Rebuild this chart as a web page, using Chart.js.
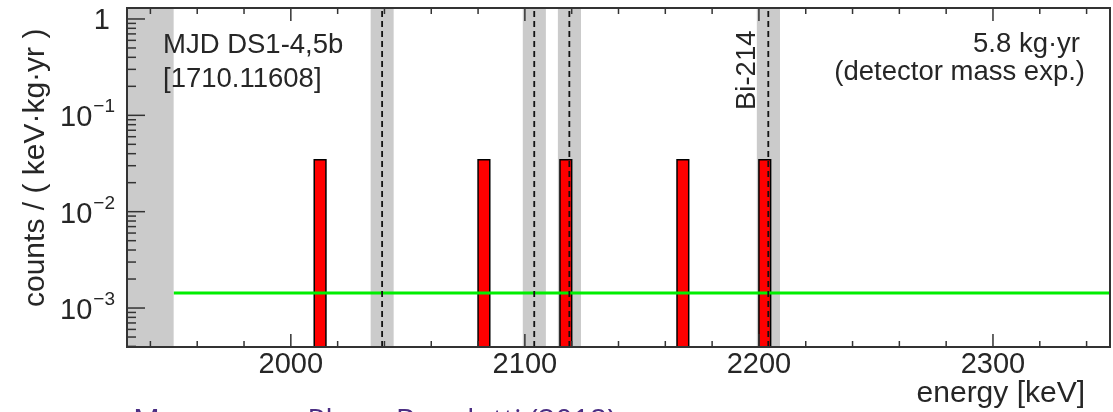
<!DOCTYPE html>
<html>
<head>
<meta charset="utf-8">
<script src="https://cdn.jsdelivr.net/npm/chart.js@4/dist/chart.umd.min.js"></script>
<style>
  html, body { margin: 0; padding: 0; background: #fff; overflow: hidden; }
  #wrap { position: relative; width: 1113px; height: 412px; }
  #caption {
    position: absolute; left: 133px; top: 404px;
    font: 30px "Open Sans", sans-serif; line-height: 1; color: #4b2e83;
    white-space: nowrap;
  }
</style>
</head>
<body>
<div id="wrap">
  <canvas id="chart" width="1113" height="412"></canvas>
  <div id="caption">Mancarone, Plaza, Benalotti (2018)</div>
</div>
<script>
// axis ranges
const xMin = 1930, xMax = 2350;
const yMin = 3.94e-4, yMax = 1.3;

// tick labels
const xTickLabels = [2000, 2100, 2200, 2300];
const yTickExponents = [-3, -2, -1, 0];

// observed events (5 keV bins), counts / (keV kg yr)
const binLow = [2010, 2080, 2115, 2165, 2200];
const binWidth = 5;
const binValues = [0.0345, 0.0345, 0.0345, 0.0345, 0.0345];

// excluded gamma lines (+-5 keV) and the low-energy cut
const lineCenters = [2039, 2104, 2119, 2204];
const lineHalfWidth = 5;
const cutRegion = [1930, 1950];

// flat background fit
const bkgLevel = 1.43e-3;
const bkgRange = [1950, 2350];

const box = (lo, hi, top) => [
  { x: lo, y: yMin }, { x: lo, y: top }, { x: hi, y: top }, { x: hi, y: yMin }
];

const datasets = [];

// grey bands
[cutRegion].concat(lineCenters.map(c => [c - lineHalfWidth, c + lineHalfWidth])).forEach(r => {
  datasets.push({
    data: box(r[0], r[1], yMax),
    borderWidth: 0,
    borderColor: 'rgba(0,0,0,0)',
    backgroundColor: '#cbcbcb',
    fill: 'start',
    order: 4
  });
});

// red bars
binLow.forEach((lo, i) => {
  datasets.push({
    data: box(lo, lo + binWidth, binValues[i]),
    borderWidth: 1.5,
    borderColor: '#000',
    backgroundColor: '#ff0000',
    fill: 'start',
    order: 3
  });
});

// background level
datasets.push({
  data: [{ x: bkgRange[0], y: bkgLevel }, { x: bkgRange[1], y: bkgLevel }],
  borderWidth: 3,
  borderColor: '#00ee00',
  fill: false,
  order: 2
});

// dashed line positions
lineCenters.forEach(c => {
  datasets.push({
    data: [{ x: c, y: yMin }, { x: c, y: yMax }],
    borderWidth: 1.8,
    borderColor: '#111',
    borderDash: [6, 4],
    fill: false,
    order: 1
  });
});

const FONT = '"Liberation Sans", Arial, sans-serif';
const TXT = '#262626';

const frameTicks = {
  id: 'frameTicks',
  afterDatasetsDraw(chart) {
    const { ctx, chartArea: a, scales: { x, y } } = chart;
    const seg = (x1, y1, x2, y2) => { ctx.beginPath(); ctx.moveTo(x1, y1); ctx.lineTo(x2, y2); ctx.stroke(); };
    ctx.save();
    ctx.strokeStyle = '#333';
    ctx.lineWidth = 1.5;

    // x ticks, top and bottom, pointing inwards
    for (let v = 1940; v < xMax; v += 20) {
      const px = x.getPixelForValue(v);
      const len = v % 100 === 0 ? 13 : 6;
      seg(px, a.bottom, px, a.bottom - len);
      seg(px, a.top, px, a.top + len);
    }
    // y ticks (log), left side only
    for (let e = -4; e <= 0; e++) {
      for (let m = 1; m <= 9; m++) {
        const v = m * Math.pow(10, e);
        if (v < yMin || v > yMax) continue;
        const py = y.getPixelForValue(v);
        seg(a.left, py, a.left + (m === 1 ? 18 : 9), py);
      }
    }
    // frame
    ctx.lineWidth = 2;
    ctx.strokeRect(a.left, a.top, a.right - a.left, a.bottom - a.top);

    ctx.fillStyle = TXT;
    // x labels
    ctx.font = '29px ' + FONT;
    ctx.textAlign = 'center';
    ctx.textBaseline = 'alphabetic';
    xTickLabels.forEach(v => ctx.fillText(String(v), x.getPixelForValue(v), a.bottom + 26));

    // y labels with superscripts
    const yRight = a.left - 12;
    yTickExponents.forEach(e => {
      const py = y.getPixelForValue(Math.pow(10, e));
      ctx.textAlign = 'right';
      if (e === 0) {
        ctx.font = '29px ' + FONT;
        ctx.fillText('1', yRight - 5, py + 10);
        return;
      }
      ctx.font = '19px ' + FONT;
      const sup = '\u2212' + Math.abs(e);
      ctx.fillText(sup, yRight, py - 3);
      const supW = ctx.measureText(sup).width;
      ctx.font = '29px ' + FONT;
      ctx.fillText('10', yRight - supW - 1, py + 11);
    });

    // axis titles
    ctx.font = '30px ' + FONT;
    ctx.textAlign = 'right';
    ctx.fillText('energy [keV]', 1085, 402);

    ctx.save();
    ctx.translate(44, 307);
    ctx.rotate(-Math.PI / 2);
    ctx.textAlign = 'left';
    ctx.fillText('counts / ( keV\u00b7kg\u00b7yr )', 0, 0);
    ctx.restore();

    // annotations
    ctx.font = '27.5px ' + FONT;
    ctx.textAlign = 'left';
    ctx.fillText('MJD DS1-4,5b', 163, 53);
    ctx.fillText('[1710.11608]', 163, 87);
    ctx.textAlign = 'right';
    ctx.fillText('5.8 kg\u00b7yr', 1080, 52);
    ctx.fillText('(detector mass exp.)', 1085, 80);

    ctx.save();
    ctx.translate(755, 110);
    ctx.rotate(-Math.PI / 2);
    ctx.textAlign = 'left';
    ctx.fillText('Bi-214', 0, 0);
    ctx.restore();

    ctx.restore();
  }
};

new Chart(document.getElementById('chart'), {
  type: 'scatter',
  data: { datasets },
  options: {
    responsive: false,
    devicePixelRatio: 1,
    animation: false,
    events: [],
    showLine: true,
    layout: { padding: { left: 127, top: 8, right: 3, bottom: 65 } },
    elements: { point: { radius: 0 }, line: { tension: 0 } },
    plugins: { legend: { display: false }, tooltip: { enabled: false } },
    scales: {
      x: { type: 'linear', min: xMin, max: xMax, display: false },
      y: { type: 'logarithmic', min: yMin, max: yMax, display: false }
    }
  },
  plugins: [frameTicks]
});
</script>
</body>
</html>
